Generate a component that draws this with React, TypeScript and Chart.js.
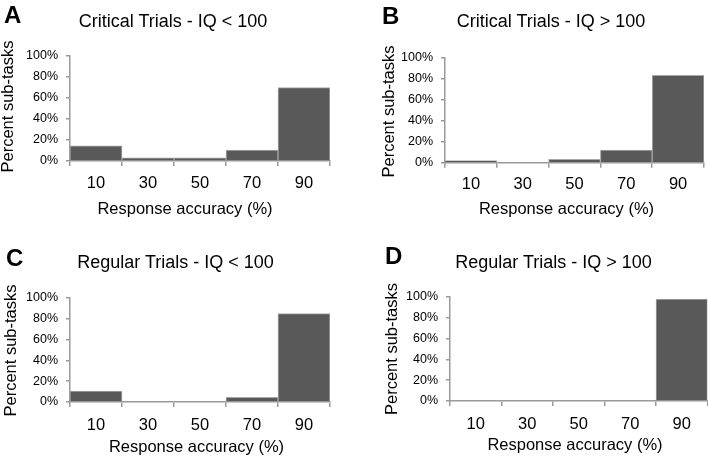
import React, { useEffect, useRef } from "react";
import { Chart, registerables } from "chart.js";

Chart.register(...registerables);

const categories = ["10", "30", "50", "70", "90"];
const yTicks = [0, 20, 40, 60, 80, 100];

const critLow = [14.5, 3, 3, 10.5, 70];
const critHigh = [2, 0, 3.2, 12, 83.5];
const regLow = [10.5, 0, 0, 4.5, 85];
const regHigh = [0, 0, 0, 0, 98];

const panelLetters = ["A", "B", "C", "D"];
const panelTitles = [
  "Critical Trials - IQ < 100",
  "Critical Trials - IQ > 100",
  "Regular Trials - IQ < 100",
  "Regular Trials - IQ > 100",
];
const panelValues = [critLow, critHigh, regLow, regHigh];
const xAxisTitle = "Response accuracy (%)";
const yAxisTitle = "Percent sub-tasks";

const FONT = "'Liberation Sans', Arial, Helvetica, sans-serif";
const AXIS = "#9a9a9a";
const BAR = "#595959";

type Layout = {
  x: number; y: number;
  left: number; right: number; top: number; bottom: number;
  tickPad: number;
  yTitleX: number; yTitleY: number; xTitleX: number; xTitleY: number;
  letterX: number; letterY: number; titleX: number; titleY: number;
};

const layouts: Layout[] = [
  { x: 0, y: 0, left: 70, right: 330, top: 56, bottom: 161, tickPad: 8, yTitleX: 8.5, yTitleY: 106.5, xTitleX: 185, xTitleY: 209, letterX: 4, letterY: 3, titleX: 173, titleY: 20.5 },
  { x: 354, y: 0, left: 91, right: 350, top: 58, bottom: 162.7, tickPad: 7, yTitleX: 35, yTitleY: 111.5, xTitleX: 212.5, xTitleY: 209, letterX: 28, letterY: 4, titleX: 197, titleY: 20.5 },
  { x: 0, y: 228, left: 70, right: 330, top: 70, bottom: 174, tickPad: 9, yTitleX: 11, yTitleY: 122.5, xTitleX: 196.5, xTitleY: 219, letterX: 6, letterY: 18, titleX: 175.5, titleY: 34 },
  { x: 354, y: 228, left: 96, right: 353.5, top: 69, bottom: 173, tickPad: 9, yTitleX: 38, yTitleY: 121, xTitleX: 221, xTitleY: 217.5, letterX: 31, letterY: 16, titleX: 199.5, titleY: 34 },
];

const W = 354;
const H = 228;
const AXIS_TITLE_SIZE = 16.5;

function Panel({ idx }: { idx: number }) {
  const ref = useRef<HTMLCanvasElement | null>(null);
  const L = layouts[idx];
  useEffect(() => {
    if (!ref.current) return;
    const axisTitles = {
      id: "axisTitles",
      afterDraw(chart: any) {
        const ctx = chart.ctx;
        ctx.save();
        ctx.fillStyle = "#000";
        ctx.font = `${AXIS_TITLE_SIZE}px ${FONT}`;
        ctx.textAlign = "center";
        ctx.textBaseline = "middle";
        ctx.fillText(xAxisTitle, L.xTitleX, L.xTitleY);
        ctx.translate(L.yTitleX, L.yTitleY);
        ctx.rotate(-Math.PI / 2);
        ctx.fillText(yAxisTitle, 0, 0);
        ctx.restore();
      },
    };
    const chart = new Chart(ref.current, {
      type: "bar",
      data: {
        labels: categories,
        datasets: [
          {
            data: panelValues[idx],
            backgroundColor: BAR,
            borderColor: "#a8a8a8",
            borderWidth: 1,
            barPercentage: 1,
            categoryPercentage: 1,
          },
        ],
      },
      options: {
        animation: false,
        responsive: false,
        maintainAspectRatio: false,
        events: [],
        layout: {
          padding: { left: 0, top: L.top, right: W - L.right, bottom: 0 },
        },
        plugins: {
          legend: { display: false },
          tooltip: { enabled: false },
          title: { display: false },
        },
        scales: {
          x: {
            offset: true,
            grid: {
              display: true,
              offset: true,
              drawOnChartArea: false,
              drawTicks: true,
              tickLength: 5,
              color: AXIS,
              lineWidth: 1.5,
            },
            border: { display: true, color: AXIS, width: 1.5 },
            ticks: {
              color: "#000",
              padding: L.tickPad,
              font: { family: FONT, size: 16.5 },
              maxRotation: 0,
            },
            title: { display: false },
            afterFit: (s: any) => {
              s.height = H - L.bottom;
            },
          },
          y: {
            min: 0,
            max: 100,
            afterBuildTicks: (s: any) => {
              s.ticks = yTicks.map((v) => ({ value: v }));
            },
            grid: {
              display: true,
              drawOnChartArea: false,
              drawTicks: true,
              tickLength: 4,
              color: AXIS,
              lineWidth: 1.5,
            },
            border: { display: true, color: AXIS, width: 1.5 },
            ticks: {
              color: "#000",
              padding: 8,
              font: { family: FONT, size: 12.5 },
              callback: (v: any) => v + "%",
            },
            title: { display: false },
            afterFit: (s: any) => {
              s.width = L.left;
            },
          },
        },
      },
      plugins: [axisTitles],
    });
    return () => chart.destroy();
  }, [idx]);

  return (
    <div style={{ position: "absolute", left: L.x, top: L.y, width: W, height: H }}>
      <canvas ref={ref} width={W} height={H} style={{ position: "absolute", left: 0, top: 0, width: W, height: H }} />
      <div
        style={{
          position: "absolute",
          left: L.letterX,
          top: L.letterY,
          fontFamily: FONT,
          fontWeight: "bold",
          fontSize: 24,
          lineHeight: "24px",
          color: "#000",
        }}
      >
        {panelLetters[idx]}
      </div>
      <div
        style={{
          position: "absolute",
          left: L.titleX - 150,
          width: 300,
          top: L.titleY - 10,
          height: 20,
          lineHeight: "20px",
          textAlign: "center",
          fontFamily: FONT,
          fontSize: 18,
          color: "#000",
          whiteSpace: "nowrap",
        }}
      >
        {panelTitles[idx]}
      </div>
    </div>
  );
}

export default function App() {
  return (
    <div style={{ position: "absolute", left: 0, top: 0, width: 708, height: 456, background: "#fff", overflow: "hidden" }}>
      {[0, 1, 2, 3].map((i) => (
        <Panel key={i} idx={i} />
      ))}
    </div>
  );
}
